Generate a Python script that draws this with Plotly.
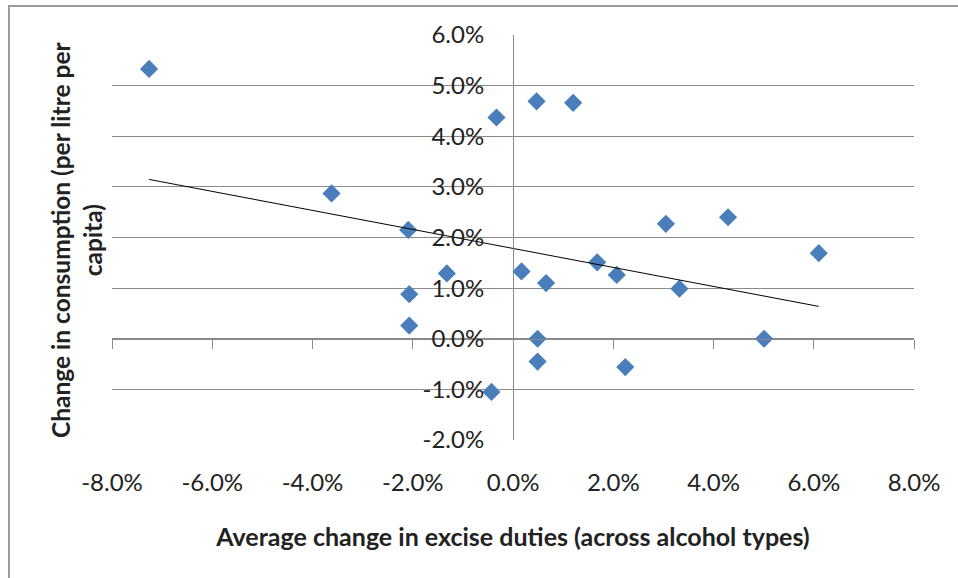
import numpy as np
import plotly.graph_objects as go

# Average change in excise duties (fraction)
excise_change = [-0.0726, -0.0362, -0.0209, -0.0132, -0.0207, -0.0207, -0.0043, -0.0033,
                 0.0047, 0.0120, 0.0017, 0.0066, 0.0049, 0.0049, 0.0168, 0.0207,
                 0.0224, 0.0305, 0.0332, 0.0429, 0.0501, 0.0610]
# Change in consumption per litre per capita (fraction)
consumption_change = [0.0533, 0.0287, 0.0215, 0.0129, 0.0088, 0.0026, -0.0105, 0.0437,
                      0.0469, 0.0466, 0.0133, 0.0110, 0.0000, -0.0045, 0.0151, 0.0126,
                      -0.0056, 0.0227, 0.0099, 0.0240, 0.0000, 0.0169]

x_tickvals = [-0.08, -0.06, -0.04, -0.02, 0.0, 0.02, 0.04, 0.06, 0.08]
x_ticktext = ["-8.0%", "-6.0%", "-4.0%", "-2.0%", "0.0%", "2.0%", "4.0%", "6.0%", "8.0%"]
y_tickvals = [-0.02, -0.01, 0.0, 0.01, 0.02, 0.03, 0.04, 0.05, 0.06]
y_ticktext = ["-2.0%", "-1.0%", "0.0%", "1.0%", "2.0%", "3.0%", "4.0%", "5.0%", "6.0%"]

x_range = [-0.08, 0.08]
y_range = [-0.02, 0.06]

x_title = "Average change in excise duties (across alcohol types)"
y_title = "Change in consumption (per litre per<br>capita)"

# linear trendline (least squares) over the data extent
slope, intercept = np.polyfit(excise_change, consumption_change, 1)
trend_x = [min(excise_change), max(excise_change)]
trend_y = [slope * v + intercept for v in trend_x]

FONT = "Lato"
GRID = "#8a8a8a"
TXT = "#222222"

fig = go.Figure()
fig.add_trace(go.Scatter(
    x=excise_change, y=consumption_change, mode="markers",
    marker=dict(symbol="diamond", size=14, color="#4a7ebb", line=dict(width=0)),
    showlegend=False, hoverinfo="x+y"))
fig.add_trace(go.Scatter(
    x=trend_x, y=trend_y, mode="lines",
    line=dict(color="#000000", width=1),
    showlegend=False, hoverinfo="skip"))
# invisible trace to materialise the tick-mark axis at y=0
fig.add_trace(go.Scatter(x=x_range, y=[0, 0], xaxis="x2", mode="lines",
                         line=dict(width=0), showlegend=False, hoverinfo="skip"))

ypos0 = (0 - y_range[0]) / (y_range[1] - y_range[0])
xpos0 = (0 - x_range[0]) / (x_range[1] - x_range[0])

# plot area 802 x 405 px
PW, PH = 802, 405
fx0 = (9 - 112) / PW          # left frame edge (paper units)
fy1 = (440 - 6) / PH          # top frame edge (paper units)

fig.update_layout(
    width=958, height=578, autosize=False,
    margin=dict(l=112, r=44, t=35, b=138),
    paper_bgcolor="white", plot_bgcolor="white",
    font=dict(family=FONT, color=TXT),
    xaxis=dict(range=x_range, tickvals=x_tickvals, ticktext=x_ticktext,
               showgrid=False, zeroline=False, showline=False, ticks="",
               tickfont=dict(size=24, color=TXT, family=FONT),
               ticklabelstandoff=26,
               title=dict(text=x_title, font=dict(size=25, family=FONT, color=TXT, weight="bold"),
                          standoff=33)),
    xaxis2=dict(range=x_range, tickvals=x_tickvals, overlaying="x", anchor="free",
                position=ypos0, showgrid=False, zeroline=False, showline=True,
                linecolor=GRID, linewidth=1, ticks="outside", ticklen=9,
                tickcolor=GRID, tickwidth=1, showticklabels=False),
    yaxis=dict(range=y_range, tickvals=y_tickvals, ticktext=y_ticktext,
               anchor="free", position=xpos0,
               showgrid=True, gridcolor=GRID, gridwidth=1, zeroline=False,
               showline=True, linecolor=GRID, linewidth=1, ticks="",
               tickfont=dict(size=24, color=TXT, family=FONT),
               ticklabelstandoff=24),
    annotations=[dict(text=y_title, textangle=-90, xref="paper", yref="paper",
                      x=(77 - 112) / PW, y=0.494, xanchor="center", yanchor="middle",
                      showarrow=False, align="center",
                      font=dict(size=24.5, family=FONT, color=TXT, weight="bold"))],
    shapes=[dict(type="line", xref="paper", yref="paper",
                 x0=fx0, x1=fx0, y0=-0.5, y1=fy1 + 0.0025,
                 line=dict(color="#9a9a9a", width=2), layer="above"),
            dict(type="line", xref="paper", yref="paper",
                 x0=fx0, x1=1.2, y0=fy1, y1=fy1,
                 line=dict(color="#9a9a9a", width=2), layer="above")],
)

fig.write_html("out.html", config={"displayModeBar": False},
               post_script="document.body.style.margin='0';document.body.style.overflow='hidden';")
